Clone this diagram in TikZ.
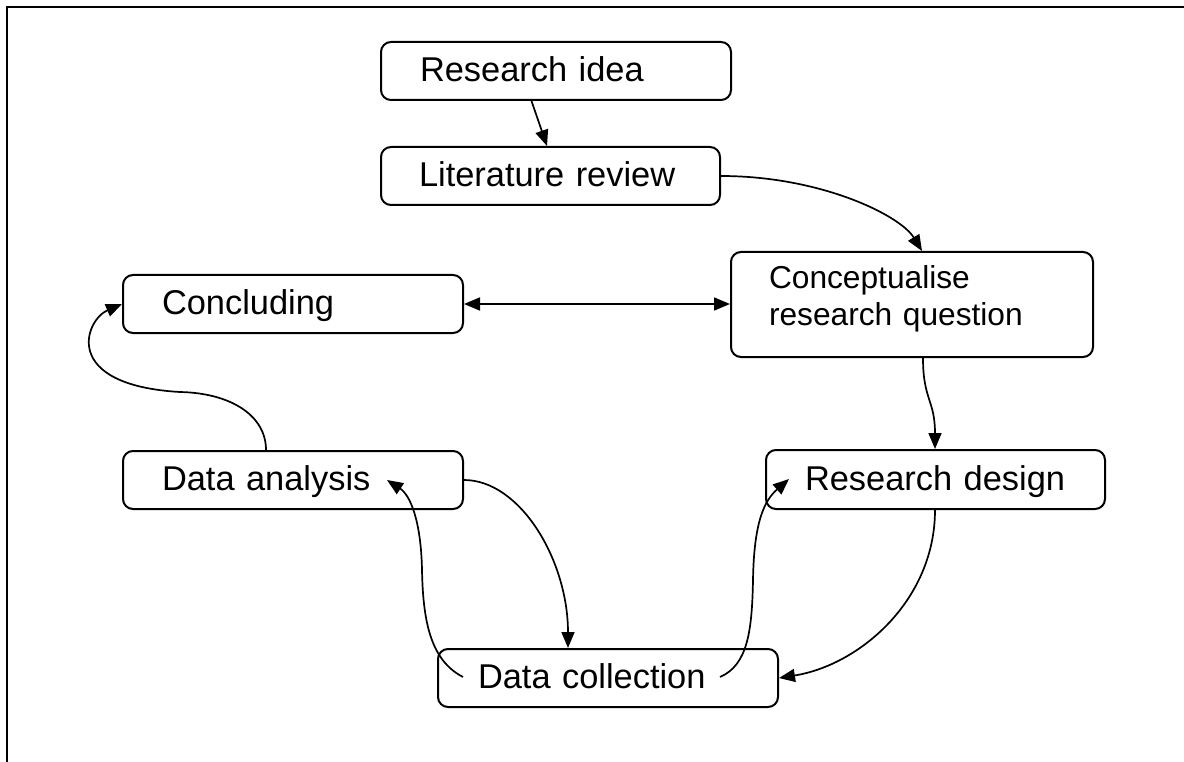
\documentclass[tikz,border=0pt]{standalone}
\usepackage{fontspec}
\setmainfont{Liberation Sans}
\usetikzlibrary{arrows.meta}
\tikzset{
  box/.style={draw, line width=2pt, rounded corners=10pt, align=left,
    font=\fontsize{34.4}{40}\selectfont, inner ysep=0pt,
    text height=28.5pt, text depth=7.5pt},
  tip/.style={Triangle[length=16pt,width=13pt]},
  conn/.style={line width=1.7pt, -{Triangle[length=16pt,width=13pt]}},
}
\begin{document}
\begin{tikzpicture}[x=1pt,y=1pt]
\useasboundingbox (0,0) rectangle (1184,-762);
\draw[line width=2.8pt] (7,-762) -- (7,-7) -- (1184,-7);

\node[box, minimum width=350pt, minimum height=58pt, inner xsep=39pt, text width=272pt] (idea) at (556,-71) {\mbox{Research idea}};
\node[box, minimum width=339pt, minimum height=58pt, inner xsep=38pt, text width=263pt] (lit) at (550.5,-176) {\mbox{Literature review}};
\node[box, minimum width=340pt, minimum height=58pt, inner xsep=39pt, text width=262pt] (concl) at (293,-304) {\mbox{Concluding}};
\node[box, minimum width=362pt, minimum height=105pt, inner xsep=38pt, text width=286pt,
  font=\fontsize{31.7}{37}\selectfont, text height=25pt, text depth=58pt] (concept) at (912,-304.5) {Conceptualise\\research question};
\node[box, minimum width=340pt, minimum height=58pt, inner xsep=39pt, text width=262pt] (analysis) at (293,-480) {\mbox{Data analysis}};
\node[box, minimum width=339pt, minimum height=59pt, inner xsep=39pt, text width=261pt] (design) at (935.5,-479.5) {\mbox{Research design}};
\node[box, minimum width=340pt, minimum height=58pt, inner xsep=40pt, text width=260pt] (collection) at (608,-678) {\mbox{Data collection}};

\coordinate (cA) at (720,-677);
\coordinate (dT) at (789,-479);
\coordinate (cB) at (463,-677);
\coordinate (aT) at (387,-480);

\draw[conn] ([xshift=-24.5pt]idea.south) -- ([xshift=-3.5pt]lit.north);
\draw[conn] (lit.east) .. controls (820,-176) and (900,-215) .. ([xshift=10pt]concept.north);
\draw[conn, {Triangle[length=16pt,width=13pt]}-{Triangle[length=16pt,width=13pt]}] (concl.east) -- (concl.east -| concept.west);
\draw[conn] ([xshift=11pt]concept.south) .. controls (923,-400) and (935,-400) .. ([xshift=-0.5pt]design.north);
\draw[conn] ([xshift=-0.5pt]design.south) .. controls (935,-600) and (860,-665) .. (collection.east);
\draw[conn] (cA) .. controls (748,-665) and (752,-630) .. (753,-580) .. controls (754,-520) and (765,-500) .. (dT);
\draw[conn] (analysis.east) .. controls (520,-480) and (568,-560) .. ([xshift=-40pt]collection.north);
\draw[conn] (cB) .. controls (430,-660) and (423,-620) .. (422,-570) .. controls (421,-520) and (410,-495) .. (aT);
\draw[conn] ([xshift=-27pt]analysis.north) .. controls (266,-415) and (230,-393) .. (180,-392) .. controls (60,-385) and (85,-320) .. (concl.west);
\end{tikzpicture}
\end{document}
